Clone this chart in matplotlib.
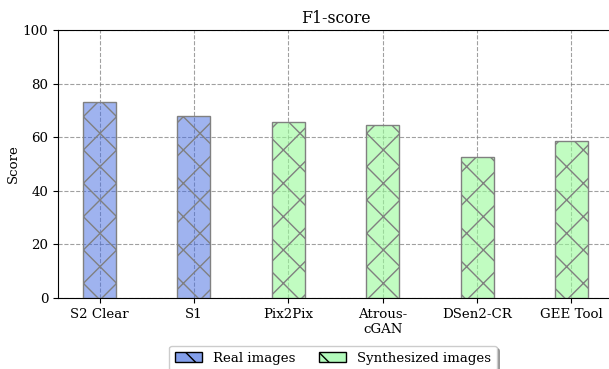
import matplotlib
matplotlib.use("Agg")
import matplotlib.pyplot as plt
from matplotlib.patches import Patch

plt.rcParams['font.family'] = ['DejaVu Serif']
plt.rcParams['hatch.color'] = 'gray'

categories = ["S2 Clear", "S1", "Pix2Pix", "Atrous-\ncGAN", "DSen2-CR", "GEE Tool"]
scores = [73.0, 68.0, 65.6, 64.5, 52.6, 58.7]
groups = ["real", "real", "synth", "synth", "synth", "synth"]
legend_labels = ["Real images", "Synthesized images"]

blue = (65/255, 105/255, 225/255, 0.5)
green = (152/255, 251/255, 152/255, 0.6)
color_map = {"real": blue, "synth": green}

fig = plt.figure(figsize=(6.09, 3.69), dpi=100)
ax = fig.add_axes([58/609, 1 - 298/369, 555/609, (298 - 30)/369])

x = list(range(len(categories)))
ax.grid(True, linestyle='--', color='gray', alpha=0.75, linewidth=0.8)
ax.set_axisbelow(True)
ax.bar(x, scores, width=0.35, color=[color_map[g] for g in groups],
       edgecolor='gray', hatch='x', linewidth=1.0, zorder=3)

ax.set_xticks(x)
ax.set_xticklabels(categories, fontsize=9.6)
ax.set_ylim(0, 100)
ax.set_xlim(-0.44, 5.44)
ax.set_yticks([0, 20, 40, 60, 80, 100])
ax.tick_params(labelsize=9.6)
ax.set_ylabel("Score", fontsize=9.6, labelpad=2)
ax.set_title("F1-score", fontsize=11.3, pad=5)

handles = [Patch(facecolor=(100/255, 135/255, 230/255, 0.8), edgecolor='black', hatch='\\'),
           Patch(facecolor=(170/255, 250/255, 180/255, 0.9), edgecolor='black', hatch='\\')]
fig.legend(handles, legend_labels, loc='upper center', bbox_to_anchor=(333/609, 1 - 339/369),
           ncol=2, fontsize=9.6, shadow=True, frameon=True, handlelength=2.0,
           columnspacing=1.8, borderpad=0.45)

fig.savefig("out.png", dpi=100)
